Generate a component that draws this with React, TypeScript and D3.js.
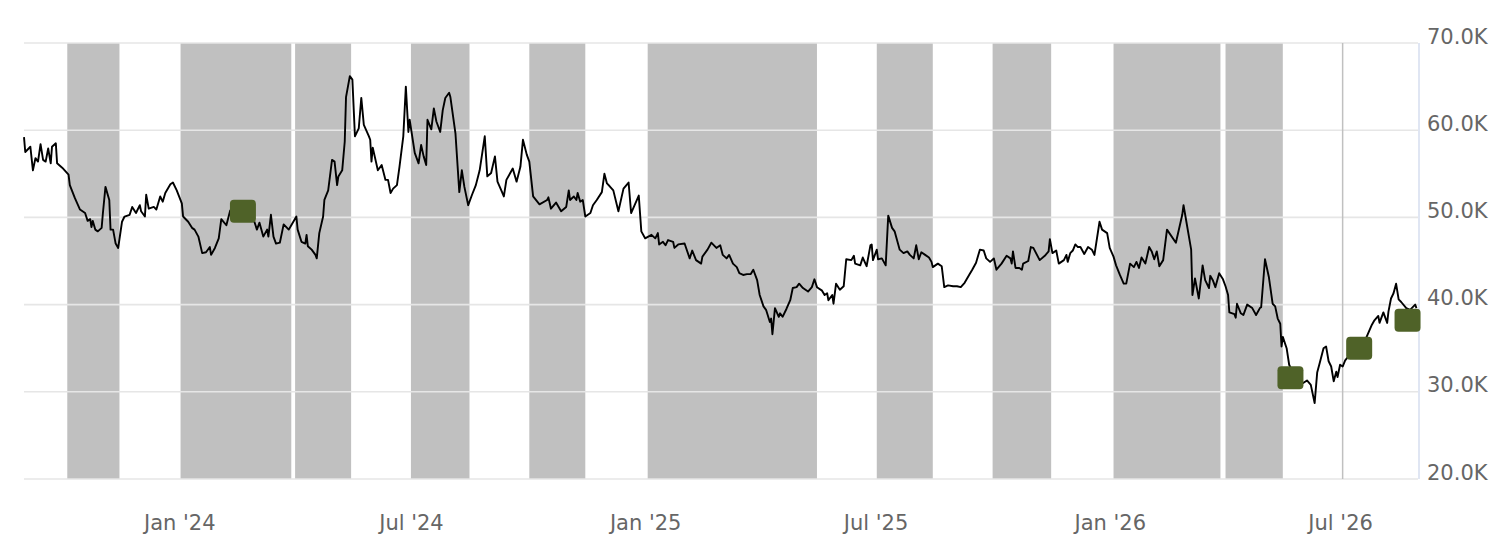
import React from 'react';
import * as d3 from 'd3';

const START_DATE = '2023-08-30';
const END_DATE = '2026-08-30';

// sample positions, in days after START_DATE
const sampleDays = [
  0, 1, 5, 7, 9, 11, 13, 15, 17, 19, 21, 22, 25, 26, 30, 35, 36, 40, 44, 48,
  50, 52, 53, 54, 56, 58, 61, 62, 64, 67, 68, 70, 72, 74, 77, 79, 83, 85, 88, 91,
  92, 95, 96, 98, 102, 104, 107, 109, 111, 115, 117, 120, 124, 125, 129, 132, 134, 137, 140, 143,
  146, 147, 150, 153, 155, 159, 162, 167, 172, 178, 181, 183, 185, 188, 191, 192, 194, 196, 198, 201,
  204, 208, 210, 214, 215, 218, 221, 222, 223, 226, 229, 230, 232, 235, 236, 239, 242, 244, 246, 247,
  250, 252, 253, 256, 258, 260, 263, 265, 267, 271, 272, 273, 274, 278, 281, 284, 286, 288, 290, 293,
  295, 298, 300, 302, 303, 307, 310, 312, 314, 316, 317, 320, 322, 324, 327, 329, 331, 334, 335, 339,
  342, 344, 346, 349, 352, 355, 358, 362, 364, 367, 370, 372, 375, 377, 379, 384, 387, 390, 392, 395,
  397, 400, 405, 411, 412, 414, 418, 422, 426, 428, 429, 432, 434, 435, 437, 439, 441, 445, 447, 450,
  454, 456, 458, 460, 463, 467, 471, 475, 477, 483, 485, 488, 493, 496, 498, 499, 502, 504, 506, 510,
  511, 514, 519, 523, 525, 528, 532, 533, 537, 540, 544, 547, 549, 552, 554, 557, 560, 562, 565, 568,
  571, 573, 576, 578, 581, 583, 586, 587, 588, 590, 593, 594, 596, 599, 602, 604, 607, 609, 612, 616,
  619, 621, 623, 627, 629, 631, 632, 635, 636, 638, 641, 644, 646, 650, 652, 653, 657, 659, 662, 665,
  666, 667, 670, 671, 674, 677, 679, 682, 684, 688, 691, 694, 696, 699, 701, 703, 705, 708, 711, 713,
  714, 718, 721, 723, 726, 730, 733, 736, 739, 743, 745, 748, 751, 754, 756, 759, 762, 764, 768, 772,
  775, 776, 777, 779, 782, 784, 785, 789, 791, 793, 798, 802, 805, 806, 808, 811, 813, 817, 819, 820,
  822, 824, 826, 828, 830, 833, 836, 839, 841, 845, 847, 851, 853, 856, 858, 861, 864, 866, 869, 872,
  874, 876, 878, 881, 884, 886, 888, 890, 892, 895, 898, 905, 910, 911, 913, 917, 918, 920, 923, 926,
  928, 931, 932, 934, 936, 939, 942, 944, 946, 947, 951, 952, 953, 956, 958, 961, 965, 968, 971, 972,
  975, 978, 981, 983, 985, 987, 988, 989, 992, 994, 999, 1005, 1008, 1011, 1014, 1016, 1018, 1021, 1023, 1025,
  1027, 1029, 1031, 1032, 1034, 1036, 1038, 1043, 1050, 1054, 1059, 1061, 1064, 1065, 1068, 1071, 1072, 1074, 1076, 1078,
  1080, 1082, 1086, 1089, 1093, 1094,
];

// values in thousands
const sampleValues = [
  59.2, 57.5, 58.1, 55.4, 56.8, 56.4, 58.4, 56.6, 56.4, 57.9, 56.2, 58.1, 58.5, 56.2, 55.7, 54.9, 53.7, 52.2, 50.9, 50.5,
  49.6, 49.8, 48.9, 49.6, 48.6, 48.4, 48.8, 50.5, 53.5, 52.0, 48.6, 48.6, 47.0, 46.5, 49.5, 50.1, 50.3, 51.2, 50.5, 51.4,
  50.7, 50.1, 52.6, 51.0, 51.2, 50.9, 52.4, 51.8, 52.8, 53.8, 54.0, 53.1, 51.6, 50.1, 49.5, 48.8, 48.6, 47.8, 45.9, 46.0,
  46.6, 45.7, 46.5, 47.6, 49.8, 49.1, 50.8, 50.6, 50.5, 49.8, 49.5, 48.6, 49.4, 47.8, 48.6, 47.8, 50.3, 47.8, 47.0, 47.1,
  49.2, 48.6, 49.1, 50.1, 48.6, 47.2, 47.0, 48.0, 46.7, 46.3, 45.7, 45.3, 48.2, 50.1, 52.0, 53.1, 56.6, 56.4, 53.7, 54.7,
  55.4, 58.7, 63.8, 66.2, 65.8, 59.3, 60.2, 63.7, 60.6, 59.3, 58.9, 56.4, 58.0, 55.4, 56.0, 54.3, 54.3, 52.8, 53.3, 53.7,
  55.8, 59.3, 65.0, 59.8, 61.2, 57.4, 56.2, 58.3, 57.0, 56.0, 61.2, 60.1, 62.5, 61.0, 59.8, 62.3, 63.7, 64.3, 63.8, 59.6,
  52.9, 55.4, 53.5, 51.4, 52.6, 53.7, 55.4, 59.3, 54.7, 55.1, 57.0, 54.1, 53.1, 52.4, 54.3, 55.6, 54.1, 55.8, 58.9, 57.2,
  56.4, 52.4, 51.5, 52.0, 52.3, 51.0, 51.7, 50.7, 51.2, 53.1, 52.0, 52.4, 52.0, 52.8, 51.8, 52.0, 50.1, 50.5, 51.4, 52.0,
  52.9, 55.0, 53.9, 53.6, 53.1, 50.7, 53.3, 54.0, 50.5, 52.5, 48.4, 47.6, 48.0, 47.6, 48.2, 46.9, 47.2, 46.8, 47.4, 47.2,
  46.5, 46.9, 47.0, 45.3, 46.2, 45.1, 44.7, 45.5, 46.3, 47.1, 46.5, 46.8, 45.7, 45.3, 45.7, 44.7, 44.3, 43.6, 43.4, 43.5,
  43.5, 44.0, 42.8, 41.1, 39.8, 39.4, 38.0, 38.4, 36.6, 39.6, 38.6, 39.0, 38.6, 39.5, 40.5, 41.9, 42.0, 42.4, 41.9, 41.5,
  42.0, 42.9, 42.0, 41.6, 41.1, 41.3, 40.5, 41.1, 40.1, 42.4, 41.7, 42.1, 45.2, 45.1, 45.6, 44.7, 44.5, 45.4, 44.4, 46.8,
  46.9, 45.1, 46.3, 45.2, 45.3, 44.5, 50.2, 48.8, 48.4, 46.3, 45.9, 46.1, 45.7, 45.3, 46.8, 45.2, 46.0, 45.7, 45.4, 44.9,
  44.3, 44.7, 44.4, 42.0, 42.2, 42.1, 42.1, 42.0, 42.5, 43.5, 44.0, 44.8, 46.3, 46.2, 45.3, 44.9, 45.3, 44.0, 44.7, 45.6,
  45.3, 44.7, 46.1, 44.2, 44.2, 44.0, 44.7, 45.0, 46.6, 46.5, 45.1, 45.6, 46.1, 47.5, 45.9, 46.2, 44.7, 45.1, 45.7, 44.9,
  45.9, 46.2, 46.9, 46.6, 46.6, 45.8, 46.6, 46.3, 45.7, 49.5, 48.6, 48.2, 46.5, 45.5, 44.5, 43.4, 42.4, 42.4, 44.7, 44.3,
  44.9, 44.2, 45.4, 44.7, 46.6, 46.1, 45.2, 46.1, 44.4, 45.1, 48.6, 47.1, 50.3, 51.4, 49.7, 46.3, 41.1, 43.0, 40.7, 44.5,
  42.8, 41.9, 43.3, 42.8, 42.0, 43.6, 42.9, 42.1, 41.1, 39.1, 38.9, 38.5, 40.1, 39.0, 38.8, 40.0, 39.6, 38.8, 39.6, 39.7,
  45.2, 43.2, 40.1, 39.8, 38.4, 37.8, 35.2, 36.3, 35.0, 33.1, 31.5, 31.0, 31.3, 30.8, 28.7, 32.2, 33.3, 35.0, 35.2, 33.5,
  32.9, 31.2, 32.3, 31.7, 33.1, 32.9, 33.6, 34.5, 35.2, 36.0, 37.7, 38.2, 38.7, 37.9, 39.1, 37.9, 39.2, 40.7, 41.3, 42.4,
  40.6, 40.3, 39.6, 39.4, 40.0, 39.6,
];

const bandStarts = [
  '2023-10-03', '2023-12-31', '2024-03-30', '2024-06-29', '2024-09-30',
  '2025-01-01', '2025-06-30', '2025-09-29', '2026-01-02', '2026-03-31',
];
const bandEnds = [
  '2023-11-13', '2024-03-27', '2024-05-13', '2024-08-14', '2024-11-13',
  '2025-05-14', '2025-08-13', '2025-11-14', '2026-03-27', '2026-05-15',
];

const markerDays = [172, 995, 1049, 1087];
const markerValues = [50.7, 31.6, 35.0, 38.2];

const plotLineDate = '2026-07-01';
const yTicks = [20, 30, 40, 50, 60, 70];

const W = 1510;
const H = 556;
const FONT = '"DejaVu Sans", Verdana, sans-serif';

const parse = d3.timeParse('%Y-%m-%d');

export default function App() {
  const start = parse(START_DATE) as Date;
  const end = parse(END_DATE) as Date;

  const x = d3.scaleTime().domain([start, end]).range([24, 1419]);
  const y = d3.scaleLinear().domain([20, 70]).range([479, 43]);

  const points = sampleDays.map((d, i) => ({
    date: d3.timeDay.offset(start, d),
    value: sampleValues[i],
  }));

  const line = d3
    .line<{ date: Date; value: number }>()
    .x(d => x(d.date))
    .y(d => y(d.value));

  const xTicks = x.ticks(d3.timeMonth.every(6) as d3.TimeInterval);
  const fmt = d3.timeFormat("%b '%y");

  const [x0, x1] = x.range();
  const [yBottom, yTop] = y.range();

  return (
    <svg
      width={W}
      height={H}
      style={{ position: 'absolute', left: 0, top: 0, background: '#fff' }}
      fontFamily={FONT}
    >
      {/* shaded periods */}
      {bandStarts.map((s, i) => {
        const a = x(parse(s) as Date);
        const b = x(parse(bandEnds[i]) as Date);
        return <rect key={s} x={a} y={yTop} width={b - a} height={yBottom - yTop} fill="#c0c0c0" />;
      })}

      {/* grid */}
      {yTicks.map(t => (
        <line key={t} x1={x0} x2={x1 - 1} y1={y(t)} y2={y(t)} stroke="#e6e6e6" strokeWidth={1.6} />
      ))}

      {/* plot line */}
      <line
        x1={x(parse(plotLineDate) as Date)}
        x2={x(parse(plotLineDate) as Date)}
        y1={yTop}
        y2={yBottom}
        stroke="#c0c0c0"
        strokeWidth={1.5}
      />

      {/* right axis line */}
      <line x1={x1} x2={x1} y1={yTop} y2={yBottom} stroke="#ccd6eb" strokeWidth={1.2} />

      <path d={line(points) || ''} fill="none" stroke="#000" strokeWidth={1.9} strokeLinejoin="round" />

      {markerDays.map((d, i) => {
        const cx = x(d3.timeDay.offset(start, d));
        const cy = y(markerValues[i]);
        return (
          <rect key={d} x={cx - 13} y={cy - 11.5} width={26} height={23} rx={4} fill="#4f6228" />
        );
      })}

      {yTicks.map(t => (
        <text key={t} x={1427} y={y(t) + 0.5} fontSize={21} fill="#666666">
          {`${t.toFixed(1)}K`}
        </text>
      ))}

      {xTicks.map(t => (
        <text key={+t} x={x(t) - 2} y={530} fontSize={21} fill="#666666" textAnchor="middle">
          {fmt(t)}
        </text>
      ))}
    </svg>
  );
}
